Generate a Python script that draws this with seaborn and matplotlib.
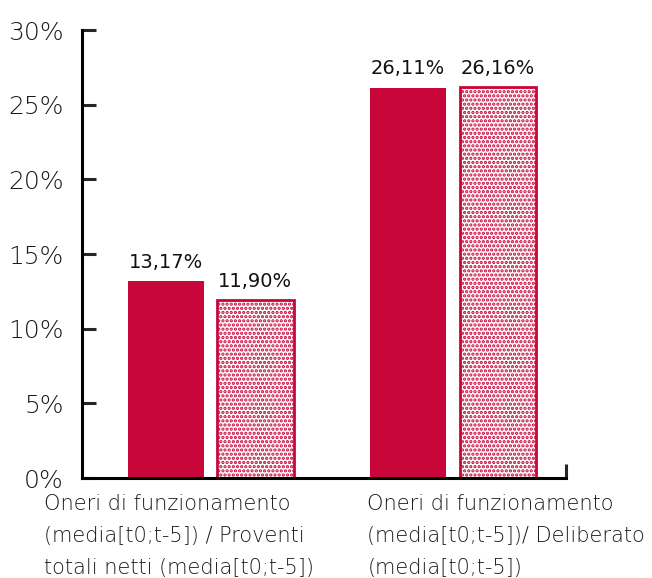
import pandas as pd
import numpy as np
import matplotlib
matplotlib.use("Agg")
import matplotlib.pyplot as plt
import seaborn as sns

categories = [
    "Oneri di funzionamento\n(media[t0;t-5]) / Proventi\ntotali netti (media[t0;t-5])",
    "Oneri di funzionamento\n(media[t0;t-5])/ Deliberato\n(media[t0;t-5])",
]
series = ["A", "B"]
values_a = [13.17, 26.11]
values_b = [11.90, 26.16]
y_ticks = [0, 5, 10, 15, 20, 25, 30]

RED = "#C9063A"

df = pd.DataFrame({
    "cat": [c for c in categories for _ in series],
    "serie": series * len(categories),
    "val": [v for pair in zip(values_a, values_b) for v in pair],
})

sns.set_style("white")
plt.rcParams["font.family"] = ["DejaVu Sans"]
plt.rcParams["hatch.color"] = RED
plt.rcParams["hatch.linewidth"] = 1.6

fig = plt.figure(figsize=(6.52, 5.78), dpi=100)
ax = fig.add_axes([0.1258, 0.173, 0.742, 0.775])

sns.barplot(data=df, x="cat", y="val", hue="serie", palette=[RED, RED],
            width=0.74, gap=0.15, legend=False, ax=ax, saturation=1)

# second series: white with dotted hatch
for p in ax.containers[1]:
    p.set_facecolor("white")
    p.set_edgecolor(RED)
    p.set_linewidth(2)
    p.set_hatch("....")
for p in ax.containers[0]:
    p.set_linewidth(0)

# value labels
for cont in ax.containers:
    labels = [f"{v:.2f}%".replace(".", ",") for v in cont.datavalues]
    ax.bar_label(cont, labels=labels, padding=7, fontsize=14,
                 color="#111111")

ax.set_xlim(-0.53, 1.465)
ax.set_ylim(0, 30)
ax.set_yticks(y_ticks)
ax.set_yticklabels([f"{t}%" for t in y_ticks], fontsize=18, color="#1a1a1a",
                   fontweight="light")
ax.tick_params(axis="y", direction="in", length=10, width=2.2, pad=13,
               left=True)
ax.set_xticks([])
ax.set_xticks([1.465], minor=True)
ax.tick_params(axis="x", which="minor", direction="in", length=10, width=2.2,
               bottom=True, labelbottom=False)
ax.set_xlabel("")
ax.set_ylabel("")

for s in ["top", "right"]:
    ax.spines[s].set_visible(False)
for s in ["left", "bottom"]:
    ax.spines[s].set_linewidth(2.2)
    ax.spines[s].set_color("black")

# category labels, left aligned under each group
label_x = [-0.686, 0.647]
for x, lab in zip(label_x, categories):
    ax.text(x, -0.035, lab, transform=ax.get_xaxis_transform(), ha="left",
            va="top", fontsize=15, color="#1a1a1a", fontweight="light",
            linespacing=1.75, clip_on=False)

fig.savefig("out.png", dpi=100)
